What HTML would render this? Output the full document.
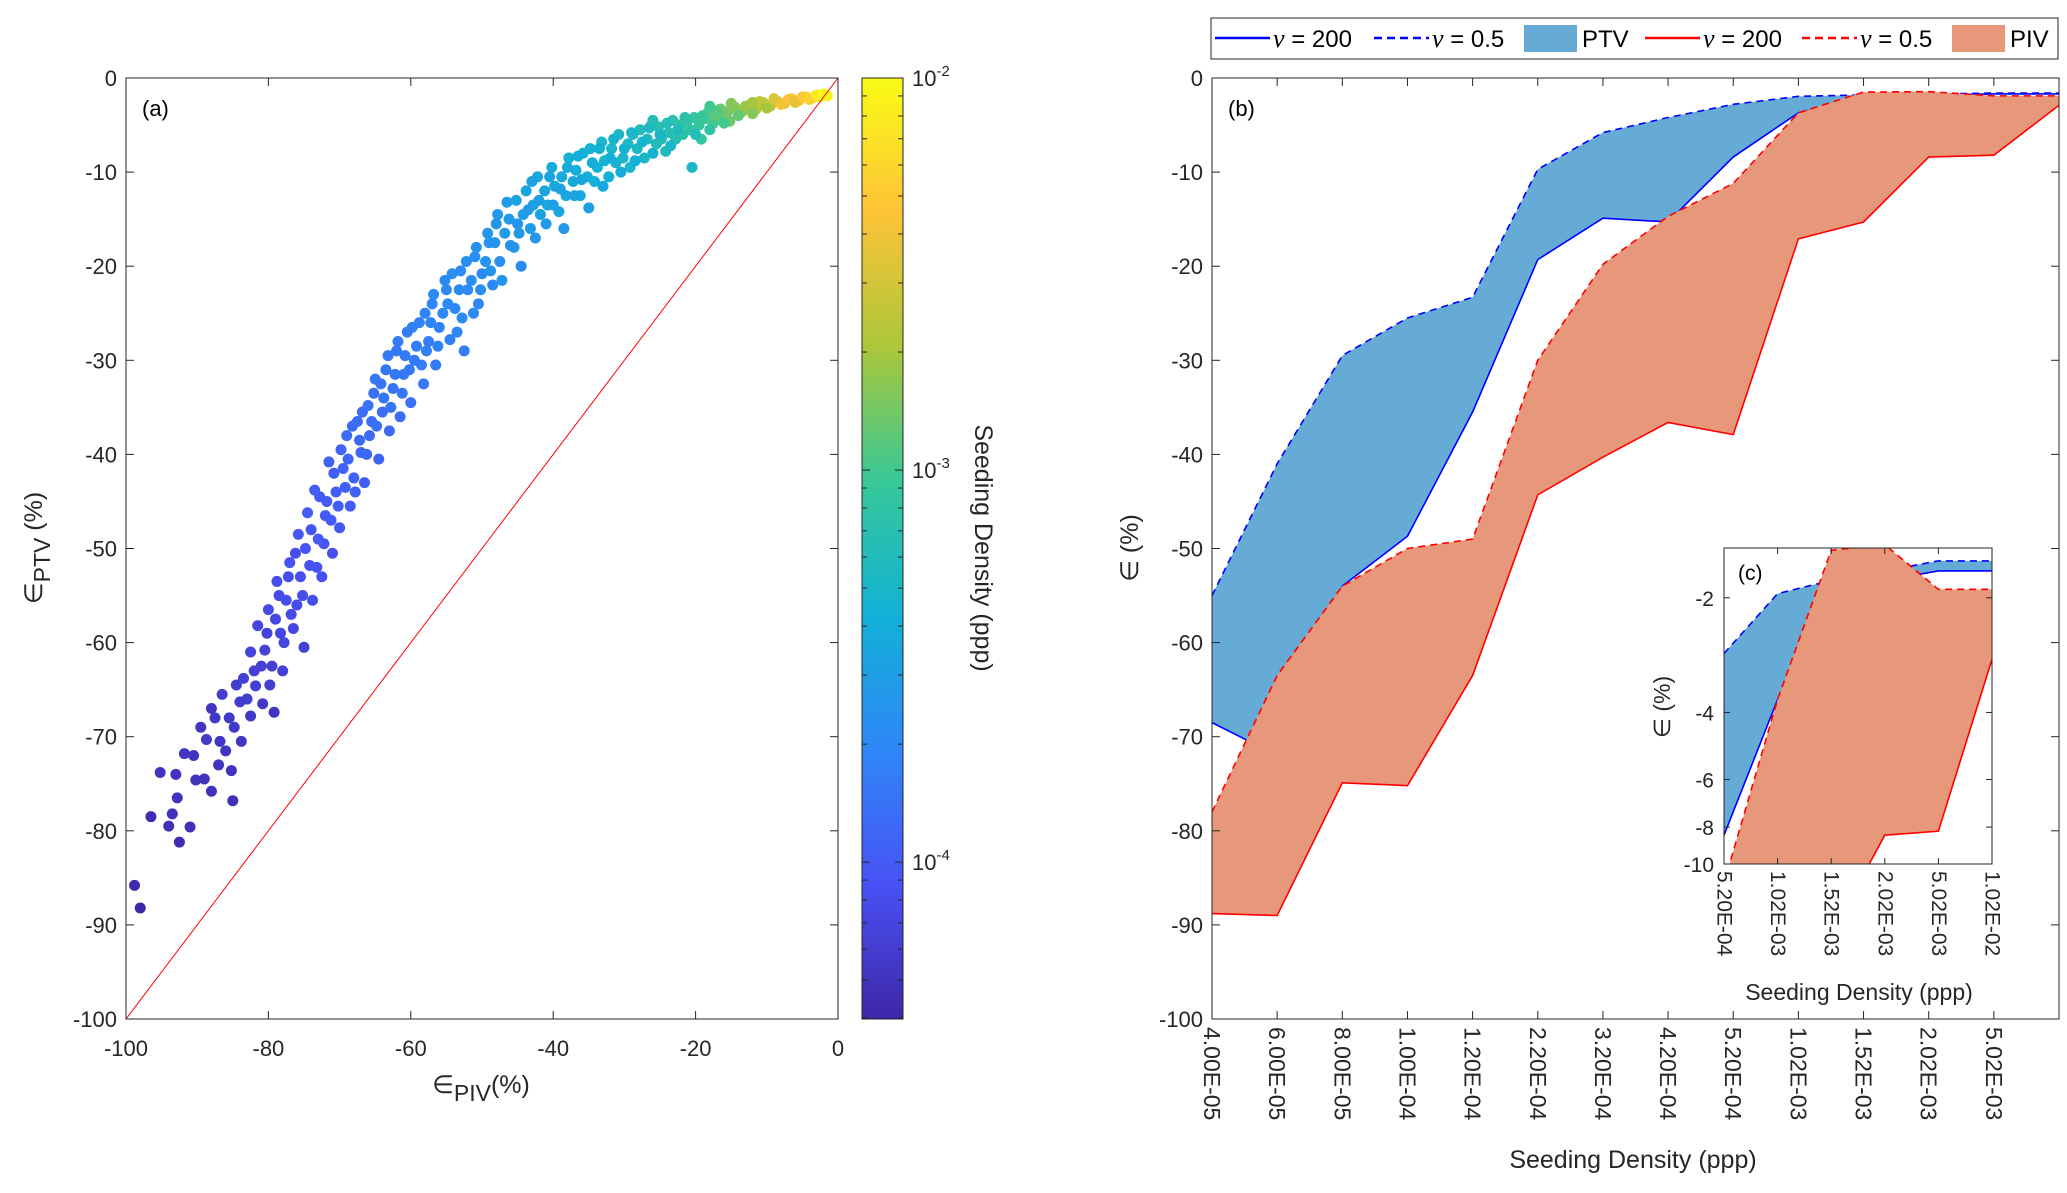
<!DOCTYPE html>
<html><head><meta charset="utf-8"><style>
html,body{margin:0;padding:0;background:#fff;}
svg{display:block;font-family:"Liberation Sans",sans-serif;}
</style></head><body>
<svg id="fig" width="2067" height="1193" viewBox="0 0 2067 1193" xmlns="http://www.w3.org/2000/svg">
<defs>
<linearGradient id="parula" x1="0" y1="1" x2="0" y2="0">
<stop offset="0" stop-color="rgb(62,38,168)"/><stop offset="0.1429" stop-color="rgb(72,82,244)"/><stop offset="0.2857" stop-color="rgb(46,135,247)"/><stop offset="0.4286" stop-color="rgb(18,177,214)"/><stop offset="0.5714" stop-color="rgb(55,200,151)"/><stop offset="0.7143" stop-color="rgb(171,199,57)"/><stop offset="0.8571" stop-color="rgb(254,195,56)"/><stop offset="1" stop-color="rgb(249,251,21)"/>
</linearGradient>
<clipPath id="clipA"><rect x="126" y="78" width="712" height="941"/></clipPath>
<clipPath id="clipB"><rect x="1212" y="78" width="847" height="941"/></clipPath>
<clipPath id="clipC"><rect x="1724" y="548" width="268" height="316"/></clipPath>
</defs>
<g id="root"></g>
</svg>
<script>
// ---- Panel (a) scatter data ----
const pivErr=[-98.8,-98.0,-95.2,-93.5,-92.5,-92.8,-91.0,-91.8,-90.2,-89.0,-88.7,-88.0,-87.5,-86.8,-86.5,-85.2,-85.0,-84.8,-84.0,-83.5,-82.5,-82.5,-81.8,-81.5,-80.8,-80.5,-80.0,-79.5,-79.2,-78.8,-78.3,-78.0,-77.5,-77.0,-76.5,-76.0,-75.8,-75.5,-75.0,-74.5,-74.2,-73.8,-73.5,-73.0,-72.5,-72.0,-71.5,-71.0,-70.5,-70.0,-69.5,-69.0,-68.5,-68.0,-67.5,-67.0,-66.5,-66.0,-65.8,-65.0,-64.5,-64.0,-63.5,-63.0,-62.5,-62.0,-61.5,-61.0,-60.5,-60.0,-59.5,-58.8,-58.2,-57.5,-57.0,-56.5,-56.0,-55.0,-54.5,-53.8,-53.0,-52.5,-52.0,-51.0,-50.5,-50.0,-49.0,-48.5,-48.0,-47.5,-46.5,-46.0,-45.0,-44.5,-43.5,-43.0,-42.5,-42.0,-41.0,-40.5,-40.0,-39.0,-38.5,-38.0,-37.0,-36.5,-36.0,-35.0,-34.5,-33.5,-33.0,-32.0,-31.5,-30.5,-30.0,-29.0,-28.5,-27.5,-26.5,-26.0,-25.0,-24.0,-23.5,-22.5,-21.5,-20.5,-20.0,-19.0,-18.0,-17.0,-16.0,-15.0,-14.0,-13.0,-12.0,-11.0,-10.0,-9.0,-8.0,-7.0,-6.0,-5.0,-4.0,-3.0,-2.5,-2.0,-1.5,-26,-18,-12];
const ptvErr=[-85.8,-88.2,-73.8,-78.2,-81.2,-76.5,-79.6,-71.8,-74.6,-74.5,-70.3,-75.8,-68.0,-70.5,-65.5,-73.6,-76.8,-69.0,-66.3,-63.8,-67.8,-61.0,-64.6,-58.2,-66.5,-60.8,-56.5,-62.5,-67.4,-53.5,-59.0,-63.0,-55.5,-51.5,-58.5,-56.0,-48.5,-53.0,-60.5,-46.2,-51.8,-55.5,-43.8,-49.0,-53.0,-46.5,-40.8,-50.5,-44.0,-47.8,-41.5,-38.0,-45.5,-42.5,-36.5,-39.8,-43.0,-34.8,-38.0,-32.0,-40.5,-35.5,-31.0,-37.5,-33.0,-29.0,-36.0,-31.5,-27.0,-34.5,-30.0,-26.0,-32.5,-28.0,-24.0,-30.5,-26.5,-22.5,-27.8,-24.5,-20.5,-29.0,-22.5,-19.0,-24.0,-20.8,-17.5,-22.0,-15.5,-19.5,-13.2,-17.8,-15.5,-20.0,-14.0,-11.0,-17.0,-13.0,-15.5,-10.5,-13.5,-11.8,-16.0,-9.5,-12.5,-8.3,-10.8,-13.8,-9.0,-7.5,-11.5,-8.5,-6.5,-10.0,-7.5,-5.8,-8.8,-6.8,-5.3,-8.0,-6.0,-4.8,-7.2,-5.5,-4.2,-9.5,-6.0,-4.0,-5.5,-3.5,-4.8,-2.7,-4.0,-3.0,-3.8,-2.5,-3.2,-2.2,-2.8,-2.3,-2.6,-2.0,-2.3,-1.8,-2.0,-1.7,-1.9,-4.5,-3.0,-2.6];
const logDensity=[-4.38,-4.4,-4.3,-4.32,-4.35,-4.3,-4.32,-4.28,-4.3,-4.3,-4.25,-4.3,-4.25,-4.27,-4.22,-4.3,-4.32,-4.25,-4.22,-4.2,-4.25,-4.18,-4.2,-4.15,-4.25,-4.18,-4.12,-4.2,-4.28,-4.1,-4.15,-4.2,-4.1,-4.05,-4.15,-4.1,-4.02,-4.08,-4.2,-4.0,-4.05,-4.1,-3.98,-4.02,-4.08,-4.0,-3.95,-4.08,-3.98,-4.02,-3.95,-3.9,-4.0,-3.95,-3.88,-3.92,-3.98,-3.85,-3.9,-3.82,-3.95,-3.88,-3.82,-3.9,-3.85,-3.8,-3.88,-3.82,-3.78,-3.86,-3.8,-3.75,-3.82,-3.78,-3.72,-3.8,-3.75,-3.7,-3.76,-3.72,-3.68,-3.78,-3.7,-3.65,-3.72,-3.68,-3.62,-3.7,-3.6,-3.65,-3.55,-3.62,-3.6,-3.68,-3.55,-3.5,-3.6,-3.52,-3.56,-3.48,-3.52,-3.48,-3.58,-3.42,-3.48,-3.4,-3.45,-3.52,-3.4,-3.35,-3.45,-3.38,-3.32,-3.42,-3.35,-3.3,-3.38,-3.32,-3.25,-3.35,-3.28,-3.2,-3.3,-3.22,-3.15,-3.3,-3.2,-3.05,-3.1,-2.95,-3.0,-2.8,-2.9,-2.75,-2.8,-2.6,-2.7,-2.5,-2.4,-2.35,-2.45,-2.3,-2.25,-2.1,-2.1,-2.02,-2.05,-3.2,-3.0,-2.7];
const pivErrB=[-96.5,-94,-93,-90.5,-89.5,-88,-87,-86,-85.5,-84.5,-83.8,-83,-82,-81,-80.2,-79.8,-79,-78.5,-77.8,-77.2,-76.8,-76.2,-75.2,-74.8,-74,-73.2,-72.8,-72.2,-71.8,-71.2,-70.8,-70.2,-69.8,-69.2,-68.8,-68.2,-67.8,-67.2,-66.8,-66.2,-65.5,-65.2,-64.8,-64.2,-63.8,-63.2,-62.8,-62.2,-61.8,-61.2,-60.8,-60.2,-59.8,-59.2,-58.5,-58,-57.8,-57.2,-56.8,-56.2,-55.5,-55.2,-54.8,-54.2,-53.5,-53.2,-52.8,-52.2,-51.5,-51.2,-50.8,-50.2,-49.5,-49.2,-48.8,-48.2,-47.8,-47.2,-46.8,-46.2,-45.5,-45.2,-44.8,-44.2,-43.8,-43.2,-42.8,-42.2,-41.8,-41.2,-40.8,-40.2,-39.8,-39.2,-38.8,-38.2,-37.8,-37.2,-36.8,-36.2,-35.8,-35.2,-34.8,-34.2,-33.8,-33.2,-32.8,-32.2,-31.8,-31.2,-30.8,-30.2,-29.5,-29.2,-28.8,-28.2,-27.8,-27.2,-26.8,-26.2,-25.5,-25.2,-24.8,-24.2,-23.8,-23.2,-22.8,-22.2,-21.8,-21.2,-20.8,-20.2,-19.5,-19.2,-18.5,-18.2,-17.5,-17.2,-16.5,-16.2,-15.5,-15.2,-14.5,-13.5,-12.5,-11.5,-10.5,-9.5,-8.5,-7.5,-6.5,-5.5,-4.5,-3.5,-2.8,-2.2,-1.8];
const ptvErrB=[-78.5,-79.5,-74,-72,-69,-67,-73,-71.5,-68,-64.5,-70.5,-66,-63,-62.5,-59,-64.5,-57.5,-55,-60,-53,-57,-50.5,-55,-50,-48,-52,-44.5,-49.5,-45,-47,-42,-45.5,-39.5,-43.5,-40.5,-37,-44,-38.5,-35.5,-40,-36.5,-33.5,-37,-32.5,-34,-29.5,-35,-31.5,-28,-33.5,-29.5,-31,-26.5,-28.5,-30.5,-25,-29,-26,-23,-28.5,-25,-21.5,-24,-20.8,-27,-22.5,-25.5,-19.5,-21.5,-25,-18,-22.5,-19.5,-16.5,-20.5,-17.5,-14.5,-21.5,-16.5,-15,-18,-13,-16.5,-14.5,-12,-16,-13.5,-10.5,-14.5,-12,-13.5,-9.5,-11.5,-14.2,-10.5,-12.5,-8.5,-11,-9.8,-12.5,-8,-10.5,-7.5,-11,-9.5,-6.8,-8.8,-10.5,-7.5,-9,-6,-8.5,-7,-9.5,-6,-7.5,-5.5,-8.5,-6.5,-5,-7,-5.2,-6.5,-7.8,-5.8,-4.5,-6.5,-5,-6,-4.6,-5.5,-4.2,-5,-6.5,-4.3,-3.6,-4.8,-3.9,-3.3,-4.3,-3.6,-4.6,-3.1,-3.6,-2.9,-3.3,-2.6,-3,-2.5,-2.7,-2.2,-2.4,-2.0,-2.1,-1.9,-1.8,-1.75];
const logDensityB=[-4.35,-4.33,-4.3,-4.3,-4.28,-4.27,-4.3,-4.28,-4.25,-4.22,-4.28,-4.22,-4.2,-4.2,-4.18,-4.22,-4.15,-4.12,-4.15,-4.1,-4.12,-4.08,-4.1,-4.05,-4.03,-4.05,-4.0,-4.03,-4.0,-4.0,-3.97,-3.98,-3.94,-3.96,-3.93,-3.9,-3.95,-3.9,-3.88,-3.9,-3.87,-3.85,-3.86,-3.83,-3.84,-3.8,-3.84,-3.81,-3.78,-3.82,-3.79,-3.8,-3.76,-3.77,-3.78,-3.73,-3.75,-3.73,-3.7,-3.74,-3.71,-3.68,-3.7,-3.66,-3.72,-3.67,-3.69,-3.64,-3.65,-3.68,-3.62,-3.65,-3.62,-3.58,-3.6,-3.58,-3.55,-3.6,-3.56,-3.54,-3.56,-3.5,-3.54,-3.52,-3.48,-3.52,-3.49,-3.45,-3.5,-3.46,-3.48,-3.42,-3.44,-3.47,-3.42,-3.44,-3.38,-3.41,-3.39,-3.42,-3.36,-3.38,-3.34,-3.38,-3.35,-3.3,-3.33,-3.35,-3.3,-3.32,-3.27,-3.3,-3.27,-3.3,-3.25,-3.26,-3.22,-3.27,-3.23,-3.2,-3.22,-3.18,-3.2,-3.22,-3.17,-3.13,-3.16,-3.12,-3.14,-3.1,-3.1,-3.05,-3.05,-3.08,-3.0,-2.95,-2.98,-2.93,-2.88,-2.9,-2.85,-2.87,-2.8,-2.78,-2.7,-2.68,-2.6,-2.58,-2.5,-2.45,-2.35,-2.32,-2.2,-2.15,-2.08,-2.03,-2.02];
const aTicks=[-100,-80,-60,-40,-20,0];
const aYTicks=[-100,-90,-80,-70,-60,-50,-40,-30,-20,-10,0];
const cbTicks=[-4,-3,-2];

// ---- Panel (b) data ----
const bCats=["4.00E-05","6.00E-05","8.00E-05","1.00E-04","1.20E-04","2.20E-04","3.20E-04","4.20E-04","5.20E-04","1.02E-03","1.52E-03","2.02E-03","5.02E-03","1.02E-02"];
const bTickLabelCount=13;
const ptvNu05=[-55,-41,-29.5,-25.5,-23.3,-9.7,-5.8,-4.2,-2.8,-1.95,-1.8,-1.7,-1.6,-1.6];
const ptvNu200=[-68.5,-72,-54,-48.7,-35.5,-19.3,-14.9,-15.3,-8.4,-3.7,-1.9,-1.8,-1.7,-1.7];
const pivNu05=[-78,-63.5,-54,-50,-49,-30,-19.8,-14.7,-11.2,-3.7,-1.5,-1.45,-1.9,-1.9];
const pivNu200=[-88.8,-89,-74.9,-75.2,-63.5,-44.3,-40.3,-36.6,-37.9,-17.1,-15.3,-8.4,-8.2,-2.9];
const bYTicks=[-100,-90,-80,-70,-60,-50,-40,-30,-20,-10,0];
const cYTicks=[-10,-8,-6,-4,-2];
const cStart=8;

const NS="http://www.w3.org/2000/svg";
const root=document.getElementById('root');
function mk(tag,attrs,parent){const e=document.createElementNS(NS,tag);for(const k in attrs)e.setAttribute(k,attrs[k]);(parent||root).appendChild(e);return e;}
function txt(s,attrs,parent){const e=mk('text',attrs,parent);e.textContent=s;return e;}

const pal=[[0,[62,38,168]],[1/7,[72,82,244]],[2/7,[46,135,247]],[3/7,[18,177,214]],[4/7,[55,200,151]],[5/7,[171,199,57]],[6/7,[254,195,56]],[1,[249,251,21]]];
function parula(t){t=Math.max(0,Math.min(1,t));for(let i=1;i<pal.length;i++){if(t<=pal[i][0]){const a=pal[i-1],b=pal[i];const f=(t-a[0])/(b[0]-a[0]);return 'rgb('+a[1].map((v,j)=>Math.round(v+(b[1][j]-v)*f)).join(',')+')';}}return 'rgb(249,251,21)';}

const TC='#262626';
// ===== Panel A =====
const A={x0:126,x1:838,y0:78,y1:1019};
const ax=v=>A.x0+(v+100)/100*(A.x1-A.x0);
const ay=v=>A.y0+(-v)/100*(A.y1-A.y0);
const gA=mk('g',{});


const dots=mk('g',{'clip-path':'url(#clipA)'},gA);


const cbMin=-4.4,cbMax=-2;
function drawDots(px,py,pd){for(let i=0;i<px.length;i++){
  const c=mk('circle',{cx:ax(px[i]),cy:ay(py[i]),r:5.5,fill:parula((pd[i]-cbMin)/(cbMax-cbMin))},dots);
  
  }}
drawDots(pivErrB,ptvErrB,logDensityB);
drawDots(pivErr,ptvErr,logDensity);
const diag=mk('line',{x1:ax(-100),y1:ay(-100),x2:ax(0),y2:ay(0),stroke:'#ff0000','stroke-width':1},gA);


mk('rect',{x:A.x0,y:A.y0,width:A.x1-A.x0,height:A.y1-A.y0,fill:'none',stroke:TC,'stroke-width':1},gA);
aTicks.forEach(v=>{const x=ax(v);
  mk('line',{x1:x,y1:A.y1,x2:x,y2:A.y1-8,stroke:TC},gA);mk('line',{x1:x,y1:A.y0,x2:x,y2:A.y0+8,stroke:TC},gA);
  const t=txt(String(v),{x:x,y:1056,'font-size':22,'text-anchor':'middle',fill:TC},gA);
  });
aYTicks.forEach(v=>{const y=ay(v);
  mk('line',{x1:A.x0,y1:y,x2:A.x0+8,y2:y,stroke:TC},gA);mk('line',{x1:A.x1,y1:y,x2:A.x1-8,y2:y,stroke:TC},gA);
  const t=txt(String(v),{x:117,y:y+8,'font-size':22,'text-anchor':'end',fill:TC},gA);
  });
let t;
t=txt('(a)',{x:142,y:116,'font-size':22,fill:'#000'},gA);
t=mk('text',{x:481,y:1093,'font-size':25,'text-anchor':'middle',fill:TC},gA);
t.innerHTML='∈<tspan font-size="23" dy="8">PIV</tspan><tspan dy="-8">(%)</tspan>';

t=mk('text',{x:0,y:0,'font-size':25,'text-anchor':'middle',fill:TC,transform:'translate(42,548) rotate(-90)'},gA);
t.innerHTML='∈<tspan font-size="23" dy="8">PTV</tspan><tspan dy="-8"> (%)</tspan>';


// colorbar
const CB={x0:862,x1:903,y0:78,y1:1019};
const cby=v=>CB.y1-(v-cbMin)/(cbMax-cbMin)*(CB.y1-CB.y0);
const gCB=mk('g',{});


mk('rect',{x:CB.x0,y:CB.y0,width:CB.x1-CB.x0,height:CB.y1-CB.y0,fill:'url(#parula)',stroke:TC},gCB);
for(let d=-5;d<=-2;d++){for(let m=1;m<10;m++){const v=d+Math.log10(m);if(v<cbMin||v>cbMax)continue;const y=cby(v);const L=m===1?8:5;
  mk('line',{x1:CB.x1,y1:y,x2:CB.x1-L,y2:y,stroke:TC},gCB);mk('line',{x1:CB.x0,y1:y,x2:CB.x0+L,y2:y,stroke:TC},gCB);}}
cbTicks.forEach(v=>{const e=mk('text',{x:912,y:cby(v)+8,'font-size':22,fill:TC},gCB);e.innerHTML='10<tspan font-size="15" dy="-10">'+v+'</tspan>';
  });
t=txt('Seeding Density (ppp)',{x:0,y:0,'font-size':25,'text-anchor':'middle',fill:TC,transform:'translate(975,548) rotate(90)'},gCB);


// ===== Panel B =====
const B={x0:1212,x1:2059,y0:78,y1:1019};
const bStep=(B.x1-B.x0)/(bCats.length-1);
const bx=i=>B.x0+i*bStep;
const by=v=>B.y0+(-v)/100*(B.y1-B.y0);
const gB=mk('g',{});


const BLUE='#66aad6',ORANGE='#e8987a';
function band(top,bot,xf,yf,fill,parent,name){
  let d='M'+top.map((v,i)=>xf(i)+','+yf(v)).join(' L');
  for(let i=bot.length-1;i>=0;i--)d+=' L'+xf(i)+','+yf(bot[i]);
  const p=mk('path',{d:d+'Z',fill:fill,stroke:'none'},parent);}
function line(vals,xf,yf,col,dash,parent,name){
  const p=mk('polyline',{points:vals.map((v,i)=>xf(i)+','+yf(v)).join(' '),fill:'none',stroke:col,'stroke-width':1.6,'stroke-dasharray':dash?'7,5':'none'},parent);
  }
const plotB=mk('g',{'clip-path':'url(#clipB)'},gB);
band(ptvNu05,ptvNu200,bx,by,BLUE,plotB,'ptv-band');
line(ptvNu200,bx,by,'#0000ff',false,plotB,'ptv-nu200-line');
line(ptvNu05,bx,by,'#0000ff',true,plotB,'ptv-nu05-line');
band(pivNu05,pivNu200,bx,by,ORANGE,plotB,'piv-band');
line(pivNu200,bx,by,'#ff0000',false,plotB,'piv-nu200-line');
line(pivNu05,bx,by,'#ff0000',true,plotB,'piv-nu05-line');
mk('rect',{x:B.x0,y:B.y0,width:B.x1-B.x0,height:B.y1-B.y0,fill:'none',stroke:TC},gB);
for(let i=0;i<bTickLabelCount;i++){const x=bx(i);
  mk('line',{x1:x,y1:B.y1,x2:x,y2:B.y1-8,stroke:TC},gB);mk('line',{x1:x,y1:B.y0,x2:x,y2:B.y0+8,stroke:TC},gB);
  const e=txt(bCats[i],{x:0,y:0,'font-size':23,fill:TC,'dominant-baseline':'central',transform:'translate('+x+',1027) rotate(90)'},gB);
  }
bYTicks.forEach(v=>{const y=by(v);
  mk('line',{x1:B.x0,y1:y,x2:B.x0+8,y2:y,stroke:TC},gB);mk('line',{x1:B.x1,y1:y,x2:B.x1-8,y2:y,stroke:TC},gB);
  const e=txt(String(v),{x:1203,y:y+8,'font-size':22,'text-anchor':'end',fill:TC},gB);
  });
t=txt('(b)',{x:1228,y:116,'font-size':22,fill:'#000'},gB);
t=txt('Seeding Density (ppp)',{x:1633,y:1168,'font-size':25,'text-anchor':'middle',fill:TC},gB);
t=txt('∈ (%)',{x:0,y:0,'font-size':25,'text-anchor':'middle',fill:TC,transform:'translate(1138,548) rotate(-90)'},gB);

// ===== Inset C =====
const C={x0:1724,x1:1992,y0:548,y1:864};
const cLo=Math.log10(1.48),cHi=1;
const cn=bCats.length-cStart;
const cx=i=>C.x0+i*(C.x1-C.x0)/(cn-1);
const cy=v=>C.y0+(Math.log10(-v)-cLo)/(cHi-cLo)*(C.y1-C.y0);
const gC=mk('g',{});


mk('rect',{x:C.x0,y:C.y0,width:C.x1-C.x0,height:C.y1-C.y0,fill:'#fff'},gC);
const plotC=mk('g',{'clip-path':'url(#clipC)'},gC);
const sl=a=>a.slice(cStart);
band(sl(ptvNu05),sl(ptvNu200),cx,cy,BLUE,plotC,'inset-ptv-band');
line(sl(ptvNu200),cx,cy,'#0000ff',false,plotC,'inset-ptv-nu200-line');
line(sl(ptvNu05),cx,cy,'#0000ff',true,plotC,'inset-ptv-nu05-line');
band(sl(pivNu05),sl(pivNu200),cx,cy,ORANGE,plotC,'inset-piv-band');
line(sl(pivNu200),cx,cy,'#ff0000',false,plotC,'inset-piv-nu200-line');
line(sl(pivNu05),cx,cy,'#ff0000',true,plotC,'inset-piv-nu05-line');
mk('rect',{x:C.x0,y:C.y0,width:C.x1-C.x0,height:C.y1-C.y0,fill:'none',stroke:TC},gC);
for(let i=0;i<cn;i++){const x=cx(i);
  mk('line',{x1:x,y1:C.y1,x2:x,y2:C.y1-6,stroke:TC},gC);mk('line',{x1:x,y1:C.y0,x2:x,y2:C.y0+6,stroke:TC},gC);
  const e=txt(bCats[cStart+i],{x:0,y:0,'font-size':21,fill:TC,'dominant-baseline':'central',transform:'translate('+x+',871) rotate(90)'},gC);
  }
cYTicks.forEach(v=>{const y=cy(v);
  mk('line',{x1:C.x0,y1:y,x2:C.x0+6,y2:y,stroke:TC},gC);mk('line',{x1:C.x1,y1:y,x2:C.x1-6,y2:y,stroke:TC},gC);
  const e=txt(String(v),{x:1714,y:y+8,'font-size':21,'text-anchor':'end',fill:TC},gC);
  });
t=txt('(c)',{x:1738,y:580,'font-size':21,fill:'#000'},gC);
t=txt('Seeding Density (ppp)',{x:1859,y:1000,'font-size':23,'text-anchor':'middle',fill:TC},gC);
t=txt('∈ (%)',{x:0,y:0,'font-size':23,'text-anchor':'middle',fill:TC,transform:'translate(1670,707) rotate(-90)'},gC);

// ===== Legend =====
const gL=mk('g',{});


mk('rect',{x:1211,y:18,width:847,height:41,fill:'#fff',stroke:TC},gL);
const legItems=[
 {type:'line',col:'#0000ff',dash:false,x:1215,label:'200',name:'legend-ptv-nu200'},
 {type:'line',col:'#0000ff',dash:true,x:1374,label:'0.5',name:'legend-ptv-nu05'},
 {type:'patch',col:BLUE,x:1524,label:'PTV',name:'legend-ptv-band'},
 {type:'line',col:'#ff0000',dash:false,x:1645,label:'200',name:'legend-piv-nu200'},
 {type:'line',col:'#ff0000',dash:true,x:1802,label:'0.5',name:'legend-piv-nu05'},
 {type:'patch',col:ORANGE,x:1952,label:'PIV',name:'legend-piv-band'}];
legItems.forEach(it=>{
  const g=mk('g',{},gL);
  
  
  if(it.type==='line'){mk('line',{x1:it.x,y1:38,x2:it.x+55,y2:38,stroke:it.col,'stroke-width':2.5,'stroke-dasharray':it.dash?'8,5':'none'},g);
    const e=mk('text',{x:it.x+58,y:47,'font-size':24,fill:'#000'},g);e.innerHTML='<tspan font-family="Liberation Serif" font-style="italic" font-size="26">ν</tspan> = '+it.label;}
  else{mk('rect',{x:it.x,y:25,width:53,height:27,fill:it.col},g);txt(it.label,{x:it.x+58,y:47,'font-size':24,fill:'#000'},g);}
});
</script>
</body></html>
